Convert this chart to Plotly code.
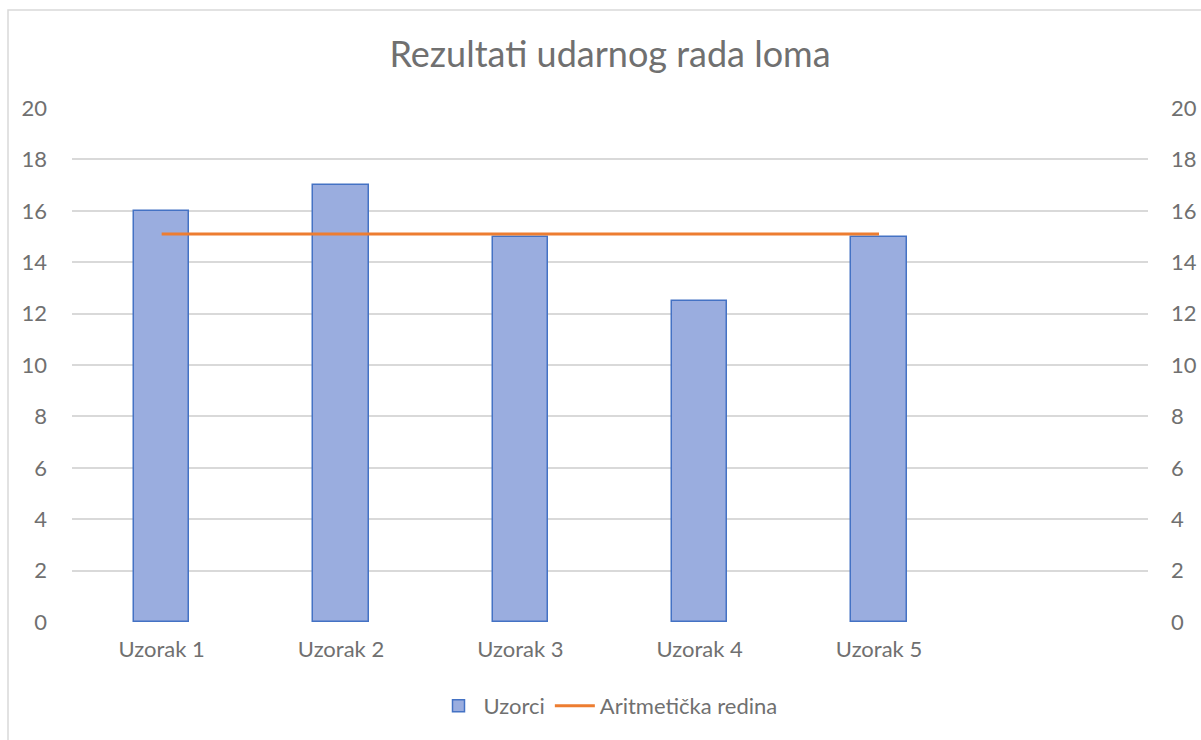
import plotly.graph_objects as go

categories = ["Uzorak 1", "Uzorak 2", "Uzorak 3", "Uzorak 4", "Uzorak 5"]
uzorci = [16, 17, 15, 12.5, 15]
mean_val = sum(uzorci) / len(uzorci)
aritmeticka = [mean_val] * len(categories)
y_ticks = list(range(0, 21, 2))

xpos = list(range(len(categories)))
font = "Lato, Noto Sans, sans-serif"
gray = "#707070"

fig = go.Figure()
fig.add_trace(go.Bar(
    x=xpos, y=uzorci, name="Uzorci", width=0.31,
    marker=dict(color="#9aaddf", line=dict(color="#4472c4", width=1.5)),
))
fig.add_trace(go.Scatter(
    x=xpos, y=aritmeticka, name="Aritmetička redina", mode="lines",
    line=dict(color="#ed7d31", width=3), yaxis="y2",
))

W, H = 1201, 740
l, r, t, b = 72, 53, 108, 118
pw, ph = W - l - r, H - t - b

fig.update_layout(
    width=W, height=H,
    margin=dict(l=l, r=r, t=t, b=b, autoexpand=False),
    paper_bgcolor="white", plot_bgcolor="white",
    font=dict(family=font, color=gray, size=22),
    title=dict(text="Rezultati udarnog rada loma", x=(610 - l) / pw, xref="paper",
               xanchor="center", y=1 - 54 / H, yanchor="middle",
               font=dict(size=36, color=gray, family=font)),
    xaxis=dict(range=[-0.5, 5.5], tickmode="array", tickvals=xpos, ticktext=categories,
               showgrid=False, zeroline=False, showline=False, ticks="", automargin=False,
               ticklabelstandoff=12, tickfont=dict(size=22, color=gray)),
    yaxis=dict(range=[0, 20], tickvals=y_ticks, showgrid=True, gridcolor="#d9d9d9",
               gridwidth=1.5, zeroline=False, showline=False, ticks="", automargin=False,
               ticklabelstandoff=24, tickfont=dict(size=22, color=gray)),
    yaxis2=dict(range=[0, 20], tickvals=y_ticks, overlaying="y", side="right",
                showgrid=False, zeroline=False, showline=False, ticks="", automargin=False,
                ticklabelstandoff=22, tickfont=dict(size=22, color=gray)),
    legend=dict(orientation="h", x=(608 - l) / pw, xanchor="center",
                y=(t + ph - 706) / ph, yanchor="middle",
                font=dict(size=22, color=gray), itemwidth=40),
    showlegend=True,
    bargap=0,
)

# outer chart border
fig.add_shape(type="rect", xref="paper", yref="paper",
              x0=(8 - l) / pw, x1=(W + 20 - l) / pw,
              y0=(t + ph - (H + 20)) / ph, y1=(t + ph - 10) / ph,
              line=dict(color="#d9d9d9", width=1.5), fillcolor="rgba(0,0,0,0)", layer="below")

fig.write_html("out.html", config={"displayModeBar": False},
               post_script="document.body.style.margin='0';document.body.style.overflow='hidden';")
